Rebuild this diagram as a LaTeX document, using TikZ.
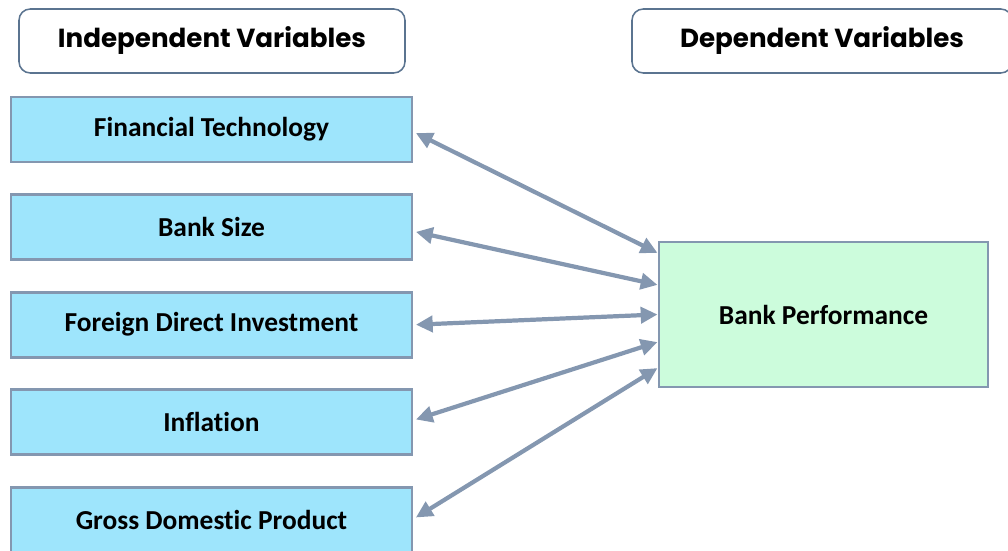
\documentclass[tikz,border=0pt]{standalone}
\usepackage{fontspec}
\setmainfont[Ligatures=NoCommon]{Carlito}
\newfontfamily\headfont{Poppins}
\usetikzlibrary{arrows.meta,positioning}
\definecolor{varblue}{HTML}{9EE5FC}
\definecolor{vargreen}{HTML}{CCFCDC}
\definecolor{varedge}{HTML}{8497B0}
\definecolor{headedge}{HTML}{5B7490}
\tikzset{%
  >={Triangle[width=4mm,length=4.2mm]},
  % Specifications for style of nodes:
            base/.style = {rectangle, draw=varedge, line width=2.1pt,
                           minimum width=10.025cm, minimum height=1.625cm,
                           text centered, font=\bfseries\fontsize{19.5}{22}\selectfont},
       headbox/.style = {base, rounded corners=8pt, draw=headedge, line width=1.1pt,
                           minimum width=9.65cm, minimum height=1.6cm, fill=white,
                           font=\headfont\bfseries\fontsize{18.6}{22}\selectfont},
       indepbox/.style = {base, fill=varblue},
       depbox/.style = {base, fill=vargreen, minimum width=8.225cm, minimum height=3.625cm},
       link/.style = {<->, draw=varedge, line width=3pt},
}

\begin{document}
\begin{tikzpicture}[node distance=2.44cm]
  \useasboundingbox (0,0) rectangle (25.2,13.775);
  % Specification of nodes (position, etc.)

  \node (indephead)		[headbox] at (5.3,12.75) {Independent Variables};
  \node (dephead)		[headbox, minimum width=9.5cm] at (20.55,12.75) {Dependent Variables};

  \node (fintech)		[indepbox] at (5.2875,10.5375) {Financial Technology};
  \node (banksize)		[indepbox, below of=fintech] {Bank Size};
  \node (fdi)			[indepbox, below of=banksize] {Foreign Direct Investment};
  \node (inflation)		[indepbox, below of=fdi] {Inflation};
  \node (gdp)			[indepbox, below of=inflation] {Gross Domestic Product};

  \node (perf)			[depbox] at (20.5875,5.9125) {Bank Performance};

 \draw[link]			([shift={(0.06,-0.09)}]fintech.east) -- ([yshift=1.54cm]perf.west);
 \draw[link]			([shift={(0.06,-0.12)}]banksize.east) -- ([yshift=0.74cm]perf.west);
 \draw[link]			([xshift=0.06cm]fdi.east) -- (perf.west);
 \draw[link]			([shift={(0.06,0.07)}]inflation.east) -- ([yshift=-0.69cm]perf.west);
 \draw[link]			([shift={(0.06,0.06)}]gdp.east) -- ([yshift=-1.34cm]perf.west);

  \end{tikzpicture}
\end{document}
